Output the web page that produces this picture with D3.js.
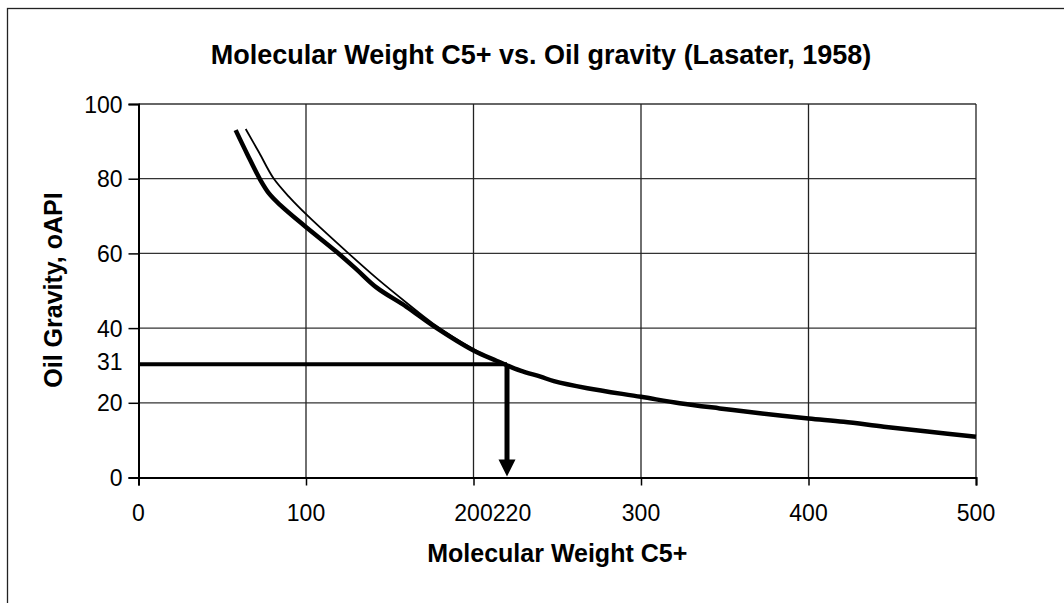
<!DOCTYPE html>
<html>
  <head>
    <meta charset="utf-8">
    <script src="https://d3js.org/d3.v7.min.js"></script>
    <style>
      body { margin: 0; background: #fff; }
      text { font-family: "Liberation Sans", Arial, sans-serif; fill: #000; }
    </style>
  </head>
  <body>
    <script type="text/javascript">
      "use strict";

      // chart values
      var xTicks = [0, 100, 200, 220, 300, 400, 500];
      var xGrid = [100, 200, 300, 400, 500];
      var yTicks = [0, 20, 40, 60, 80, 100];
      var yExtraLabel = 31;

      // Lasater chart curve (thick)
      var lasaterMw = [58, 65, 72.7, 78, 84.5, 98.5, 118, 130, 142, 160, 176, 200, 214, 228, 240, 248, 268, 300, 323, 347, 371, 400, 421, 445, 471, 500];
      var lasaterApi = [93, 86.5, 79.7, 76, 73, 67.6, 60.5, 55.8, 50.9, 45.7, 40.6, 34, 31.2, 28.6, 27, 25.8, 23.9, 21.6, 19.9, 18.5, 17.2, 15.8, 14.9, 13.6, 12.3, 10.9];

      // fitted curve (thin)
      var fitMw = [64, 72, 80.6, 90.6, 100.5, 125.4, 142.3, 160, 176, 200, 212];
      var fitApi = [93.3, 87, 80.1, 74.8, 70.3, 60, 53.3, 46.8, 41.2, 34.4, 31.6];

      // reading for API = 31
      var readApi = 30.3;
      var readMw = 220;

      var W = 1064, H = 603;
      var plot = { left: 138.5, right: 976, top: 104, bottom: 477.5 };

      var svg = d3.select("body").append("svg")
        .attr("width", W)
        .attr("height", H);

      svg.append("rect")
        .attr("x", 7.5).attr("y", 8.5)
        .attr("width", W + 10).attr("height", H + 10)
        .attr("fill", "#fff")
        .attr("stroke", "#222")
        .attr("stroke-width", 1.3);

      var x = d3.scaleLinear().domain([0, 500]).range([plot.left, plot.right]);
      var y = d3.scaleLinear().domain([0, 100]).range([plot.bottom, plot.top]);

      // gridlines
      svg.append("g").selectAll("line").data(yTicks.slice(1)).enter().append("line")
        .attr("x1", plot.left).attr("x2", plot.right)
        .attr("y1", function (d) { return y(d); })
        .attr("y2", function (d) { return y(d); })
        .attr("stroke", "#333").attr("stroke-width", 1.3);

      svg.append("g").selectAll("line").data(xGrid).enter().append("line")
        .attr("y1", plot.top).attr("y2", plot.bottom)
        .attr("x1", function (d) { return x(d); })
        .attr("x2", function (d) { return x(d); })
        .attr("stroke", "#222").attr("stroke-width", 1.3);

      // axes
      var yAxis = d3.axisLeft(y).tickValues(yTicks).tickSize(10).tickPadding(6);
      var gy = svg.append("g").attr("transform", "translate(" + plot.left + ",0)").call(yAxis);
      gy.select(".domain").attr("stroke-width", 2);
      gy.selectAll(".tick line").attr("stroke-width", 1.5);
      gy.selectAll("text").style("font-size", "23px").attr("dy", "0.35em");

      var xAxis = d3.axisBottom(x).tickValues(xGrid.concat([0])).tickSize(8).tickFormat("");
      var gx = svg.append("g").attr("transform", "translate(0," + plot.bottom + ")").call(xAxis);
      gx.select(".domain").attr("stroke-width", 2);
      gx.selectAll(".tick line").attr("stroke-width", 1.5);

      svg.append("g").selectAll("text").data(xTicks).enter().append("text")
        .attr("x", function (d) { return x(d) + (d === 220 ? 5 : 0); })
        .attr("y", 521)
        .attr("text-anchor", "middle")
        .style("font-size", "23px")
        .text(function (d) { return d; });

      svg.append("text")
        .attr("x", plot.left - 16)
        .attr("y", y(yExtraLabel))
        .attr("dy", "0.35em")
        .attr("text-anchor", "end")
        .style("font-size", "23px")
        .text(yExtraLabel);

      // curves
      var line = d3.line()
        .x(function (d) { return x(d[0]); })
        .y(function (d) { return y(d[1]); })
        .curve(d3.curveCatmullRom.alpha(0.5));

      svg.append("path")
        .datum(d3.zip(fitMw, fitApi))
        .attr("d", line)
        .attr("fill", "none")
        .attr("stroke", "#000")
        .attr("stroke-width", 1.8);

      svg.append("path")
        .datum(d3.zip(lasaterMw, lasaterApi))
        .attr("d", line)
        .attr("fill", "none")
        .attr("stroke", "#000")
        .attr("stroke-width", 4.5)
        .attr("stroke-linejoin", "round");

      // reading line and arrow
      svg.append("line")
        .attr("x1", x(0)).attr("x2", x(readMw))
        .attr("y1", y(readApi)).attr("y2", y(readApi))
        .attr("stroke", "#000").attr("stroke-width", 4);

      svg.append("line")
        .attr("x1", x(readMw)).attr("x2", x(readMw))
        .attr("y1", y(readApi)).attr("y2", y(0) - 16)
        .attr("stroke", "#000").attr("stroke-width", 5);

      svg.append("path")
        .attr("d", "M" + (x(readMw) - 8.5) + "," + (y(0) - 18) +
                   "L" + (x(readMw) + 8.5) + "," + (y(0) - 18) +
                   "L" + x(readMw) + "," + (y(0) - 1) + "Z")
        .attr("fill", "#000");

      // titles
      svg.append("text")
        .attr("x", 541).attr("y", 64)
        .attr("text-anchor", "middle")
        .style("font-size", "27px").style("font-weight", "bold")
        .text("Molecular Weight C5+ vs. Oil gravity (Lasater, 1958)");

      svg.append("text")
        .attr("x", (plot.left + plot.right) / 2).attr("y", 562)
        .attr("text-anchor", "middle")
        .style("font-size", "25px").style("font-weight", "bold")
        .text("Molecular Weight C5+");

      svg.append("text")
        .attr("transform", "translate(62,290) rotate(-90)")
        .attr("text-anchor", "middle")
        .style("font-size", "25px").style("font-weight", "bold")
        .text("Oil Gravity, oAPI");
    </script>
  </body>
</html>
